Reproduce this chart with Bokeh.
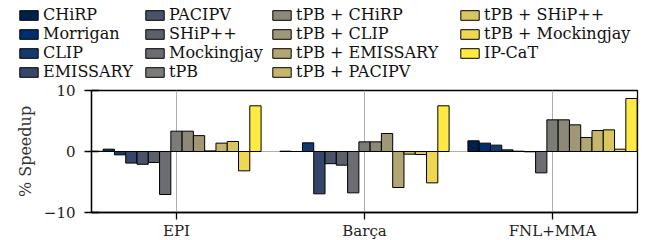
from bokeh.plotting import figure
from bokeh.models import Range1d, FixedTicker, Legend, LegendItem, ColumnDataSource
from bokeh.transform import dodge
from bokeh.palettes import cividis
from bokeh.embed import file_html
from bokeh.resources import INLINE

groups = ["EPI", "Barça", "FNL+MMA"]
series = ["CHiRP", "Morrigan", "CLIP", "EMISSARY", "PACIPV", "SHiP++",
          "Mockingjay", "tPB", "tPB + CHiRP", "tPB + CLIP", "tPB + EMISSARY",
          "tPB + PACIPV", "tPB + SHiP++", "tPB + Mockingjay", "IP-CaT"]
epi = [0.03, 0.38, -0.55, -1.9, -2.1, -1.8, -7.05, 3.33, 3.33, 2.6, 0.1,
       1.37, 1.64, -3.17, 7.49]
barca = [0.05, 0.0, 1.42, -6.94, -2.0, -2.24, -6.78, 1.58, 1.58, 2.95, -5.9,
         -0.44, -0.5, -5.14, 7.49]
fnl_mma = [1.75, 1.37, 1.04, 0.27, 0.05, -0.05, -3.5, 5.19, 5.19, 4.37, 2.3,
           3.44, 3.55, 0.38, 8.69]
y_ticks = [-10, 0, 10]

colors = cividis(len(series))
FONT = "DejaVu Serif"
LEG_H = 81

# ---------------- main chart ----------------
p = figure(frame_width=546, frame_height=122,
           x_range=Range1d(-0.452, 2.452), y_range=Range1d(-10, 10),
           output_backend="svg", toolbar_location=None,
           min_border_left=91, min_border_top=90 - LEG_H, min_border_right=15,
           min_border_bottom=28)

bar_w = 0.06
center = (len(series) - 1) / 2
xs = list(range(len(groups)))
for i, name in enumerate(series):
    src = ColumnDataSource(dict(x=xs, top=[epi[i], barca[i], fnl_mma[i]]))
    p.vbar(x=dodge("x", (i - center) * bar_w, range=p.x_range), top="top",
           bottom=0, width=bar_w, source=src, fill_color=colors[i],
           line_color="black", line_width=1)

p.xaxis.ticker = FixedTicker(ticks=xs)
p.xaxis.major_label_overrides = {i: g for i, g in enumerate(groups)}
p.yaxis.ticker = FixedTicker(ticks=y_ticks)
for ax in (p.xaxis, p.yaxis):
    ax.major_label_text_font = FONT
    ax.major_label_text_font_size = "15px"
    ax.major_label_text_color = "#222222"
    ax.axis_line_color = "black"
    ax.axis_line_width = 1.3
    ax.major_tick_line_color = "black"
    ax.major_tick_line_width = 1.3
    ax.minor_tick_line_color = None
p.yaxis.major_tick_in = 7
p.yaxis.major_tick_out = 7
p.yaxis.major_label_standoff = 9
p.xaxis.major_tick_in = 0
p.xaxis.major_tick_out = 7
p.xaxis.major_label_standoff = 2
p.yaxis.axis_label = "% Speedup"
p.yaxis.axis_label_text_font = FONT
p.yaxis.axis_label_text_font_size = "16px"
p.yaxis.axis_label_text_font_style = "normal"
p.yaxis.axis_label_text_color = "#333333"
p.yaxis.axis_label_standoff = 6

p.xgrid.ticker = FixedTicker(ticks=xs)
p.xgrid.grid_line_color = "#b0b0b0"
p.ygrid.ticker = FixedTicker(ticks=[0])
p.ygrid.grid_line_color = "#b0b0b0"
p.outline_line_color = "black"
p.outline_line_width = 1.3
p.outline_line_alpha = 1

# ---------------- legend strip ----------------
lg = figure(width=652, height=LEG_H, x_axis_type=None, y_axis_type=None,
            output_backend="svg", toolbar_location=None, min_border=0,
            x_range=Range1d(0, 1), y_range=Range1d(0, 1))
lg.grid.visible = False
lg.outline_line_color = None

col_x = [17, 143, 270, 458]
row_pitch = 19
legend_top = 5
items = []
for i, name in enumerate(series):
    # swatch-only glyph placed far outside the visible ranges
    r = lg.vbar(x=[50], top=[60], bottom=50, width=1, fill_color=colors[i],
                line_color="black", line_width=1)
    items.append(LegendItem(label=name, renderers=[r]))

for c in range(4):
    col_items = items[c * 4:(c + 1) * 4]
    h = len(col_items) * row_pitch
    leg = Legend(items=col_items, location=(col_x[c], LEG_H - legend_top - h),
                 orientation="vertical", label_text_font=FONT,
                 label_text_font_size="16px", label_text_color="#111111",
                 glyph_width=23, glyph_height=12, label_standoff=3, spacing=0,
                 padding=0, margin=0, label_height=row_pitch,
                 border_line_alpha=0, background_fill_alpha=0)
    lg.add_layout(leg, "center")

open("out.html", "w").write(file_html([lg, p], INLINE))
